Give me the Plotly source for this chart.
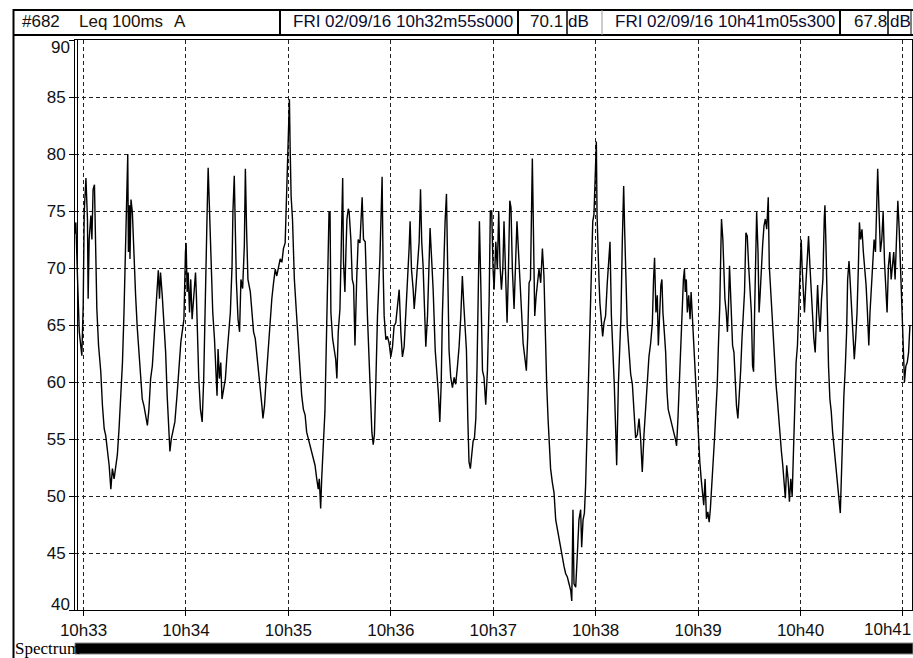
import plotly.graph_objects as go
import pandas as pd

# ---------------- data ----------------
START = "2016-09-02 10:32:55"
END = "2016-09-02 10:41:05.300"

# seconds after 10h32m55s000
seconds = [
    0.0, 0.5, 1.5, 2.5, 4.0, 4.8, 5.4, 6.4, 7.3, 7.7, 8.3, 9.3, 9.9, 10.6, 11.4, 12.2, 12.8, 13.8, 15.1, 16.1,
    17.1, 18.0, 19.0, 20.0, 21.0, 21.9, 22.9, 23.9, 24.8, 25.8, 26.8, 27.8, 28.7, 29.7, 30.3, 30.9, 31.3, 31.9,
    32.2, 32.8, 33.6, 34.6, 35.5, 36.5, 37.5, 38.5, 39.4, 40.4, 41.4, 42.4, 43.3, 44.3, 45.3, 46.2, 47.2, 48.2,
    48.8, 49.5, 50.1, 51.1, 52.1, 53.1, 54.0, 55.0, 55.6, 56.4, 57.3, 58.5, 59.9, 60.8, 62.0, 62.8, 63.8, 64.7,
    65.1, 65.7, 66.3, 67.1, 67.8, 68.6, 69.6, 70.6, 71.1, 72.5, 73.5, 74.5, 75.4, 76.4, 77.4, 78.0, 78.7, 79.5,
    80.7, 81.7, 82.6, 83.2, 83.8, 84.6, 85.4, 86.1, 87.1, 88.1, 89.0, 90.0, 91.0, 92.0, 92.5, 93.3, 93.9, 94.5,
    95.5, 96.4, 97.2, 98.2, 99.2, 99.8, 100.5, 101.3, 102.7, 103.6, 104.6, 105.6, 107.1, 108.5, 109.5, 110.1,
    111.0, 112.0, 113.0, 113.9, 115.3, 116.3, 117.3, 118.2, 119.2, 120.2, 121.2, 122.1, 123.1, 123.7, 124.3,
    125.0, 125.6, 126.0, 126.6, 127.4, 128.5, 129.7, 130.9, 131.8, 132.8, 133.8, 134.8, 135.7, 136.7, 137.7,
    138.7, 139.6, 140.6, 141.6, 142.5, 143.1, 143.9, 144.5, 145.5, 146.4, 147.2, 148.0, 148.8, 149.4, 149.9,
    150.9, 151.9, 152.7, 153.4, 154.2, 155.2, 156.2, 156.8, 157.3, 158.1, 158.7, 159.3, 160.1, 160.6, 161.6,
    162.4, 163.2, 164.0, 165.0, 165.9, 166.9, 167.5, 168.2, 169.0,
    170.0, 171.3, 172.7, 173.9, 174.7, 175.4, 176.2, 177.2, 178.6, 179.3, 179.9, 180.5, 181.1, 182.1, 183.0,
    184.0, 185.0, 186.0, 186.9, 187.9, 188.9, 189.9, 190.9, 191.8, 192.8, 193.8, 194.8, 195.7, 196.3, 197.1,
    198.1, 198.7, 199.6, 200.6, 201.6, 202.4, 203.1, 203.9, 204.7, 205.5, 206.5, 207.4, 208.0, 208.8, 209.8,
    211.0, 212.0, 212.9, 213.7, 214.5, 215.2, 216.2, 216.8, 217.6, 218.4, 219.1, 220.1, 221.1, 222.1, 223.0,
    224.0, 225.0, 226.0, 226.9, 227.7, 228.5, 229.3, 230.1, 230.8, 231.6, 232.4, 233.2, 234.0, 234.8, 235.5,
    236.3, 236.9, 237.7, 238.7, 239.6, 240.6, 241.6, 242.6, 243.3, 244.1, 244.9, 245.5, 246.5, 247.4, 248.2,
    249.0, 249.8, 250.6, 251.3, 252.3, 253.1, 253.9, 254.7, 255.4, 256.2, 257.2, 258.2, 258.9, 259.7, 260.7,
    261.5, 262.5, 263.4, 264.4, 265.2, 266.0, 266.8, 267.5, 267.9, 268.7, 269.3, 270.1, 270.8, 271.8, 272.8,
    273.8, 274.7, 275.5, 276.3, 277.1, 277.9, 278.6, 279.6, 280.6, 281.6, 282.6, 283.5, 284.5, 285.5, 286.5,
    287.4, 288.4, 289.4, 290.4, 291.0, 291.7, 292.3, 293.3, 294.3, 295.2, 296.2, 296.8, 297.6, 298.4, 299.1,
    299.9, 300.7, 301.5, 302.5, 303.3, 304.0, 304.6, 305.4, 305.8, 306.4, 307.0, 307.5, 308.3, 309.1, 309.9,
    310.8, 311.8, 312.8, 313.4, 314.2, 315.1, 315.9, 316.7, 317.3, 318.3, 319.0, 319.8, 320.6, 321.4, 322.0,
    322.6, 323.5, 324.5, 325.5, 326.5, 327.4, 328.4, 329.4, 330.4, 331.3, 332.3, 333.3, 334.3, 335.2, 336.2,
    337.2, 338.2,
    338.9, 339.5, 340.3, 341.1, 341.7, 342.4, 343.2, 343.8, 344.4, 345.2, 346.0, 346.8, 347.5, 348.3, 349.1,
    349.9, 350.7, 351.7, 352.4, 353.2, 354.0, 354.8, 355.6, 356.4, 357.0, 357.5, 358.1, 358.7, 359.5, 360.3,
    360.9, 361.5, 362.0, 362.8, 363.6, 364.4, 365.2, 366.0, 366.8, 367.5, 368.3, 369.1, 369.9, 370.7, 371.5,
    372.2, 373.0, 373.8, 374.6, 375.4, 376.2, 376.9, 377.7, 378.3, 378.7, 379.5, 380.1, 380.7, 381.5, 382.2,
    382.8, 383.4, 384.0, 384.6, 385.2, 386.0, 386.7, 387.5, 388.3, 389.1, 389.9, 390.7, 391.4, 392.2, 393.0,
    393.8, 394.6, 395.4, 396.2, 396.9, 397.5, 398.1, 398.7, 399.3, 400.1, 400.7, 401.2, 402.0, 402.8, 403.6,
    404.4, 405.2, 405.6, 406.1, 406.7, 407.5, 408.3, 409.1, 409.9, 410.7, 411.4, 412.2, 413.0, 413.8, 414.6,
    415.4, 416.1, 416.9, 417.7, 418.5, 419.3, 420.1, 420.8, 421.6, 422.4, 423.2, 424.0, 424.8, 425.4, 425.9,
    426.5, 427.3, 428.1, 428.9, 429.7, 430.5, 431.2, 432.0, 432.8, 433.6, 434.2, 435.0, 435.7, 436.5, 437.3,
    438.1, 438.9, 439.3, 439.9, 440.6, 441.4, 442.2, 443.0, 443.8, 444.6, 445.3, 446.1, 446.9, 447.7, 448.3,
    448.9, 449.7, 450.4, 451.2, 452.0, 452.6, 453.4, 454.2, 455.0, 455.7, 456.5, 457.3, 458.1, 458.9, 459.5,
    460.2, 461.0, 461.8, 462.6, 463.4, 464.2, 465.0, 465.7, 466.5, 467.3, 468.1, 468.9, 469.7, 470.2, 471.0,
    471.8, 472.6, 473.4, 474.2, 474.9, 475.7, 476.5, 477.3, 478.1, 478.9, 479.6, 480.4, 481.2, 482.0, 482.8,
    483.6, 484.4, 485.1, 485.9, 486.7, 487.5, 488.3, 489.1,
]

# Leq 100ms A, dB
leq_db = [
    73.0, 74.0, 69.0, 64.4, 62.3, 66.7, 74.9, 77.9, 74.3, 67.3, 72.5, 74.6, 72.5, 76.9, 77.3, 69.0, 66.4, 63.2, 60.9, 57.9,
    55.9, 55.3, 53.9, 52.7, 50.6, 52.4, 51.5, 52.7, 53.6, 55.9, 58.8, 61.7, 66.1, 72.0, 78.1, 80.0, 71.4, 75.5,
    70.8, 76.0, 74.9, 70.2, 67.6, 64.7, 62.3, 60.3, 58.5, 57.9, 57.1, 56.2, 57.6, 60.3, 61.4, 63.5, 66.4, 68.7,
    69.8, 67.3, 69.6, 67.6, 65.5, 62.6, 58.8, 54.7, 53.9, 55.0, 55.6, 56.5, 59.1, 61.2, 63.5, 64.4, 65.5, 71.4,
    72.2, 67.9, 69.6, 66.1, 69.0, 65.5, 67.9, 69.6, 67.6, 60.3, 57.6, 56.5, 60.3, 69.0, 74.9, 78.8, 74.9, 72.0,
    66.1, 63.8, 60.6, 58.8, 62.9, 60.3, 61.7, 58.5, 59.4, 60.3, 62.3, 64.4, 66.1, 70.2, 74.9, 78.1, 73.4, 69.0,
    65.5, 64.4, 69.0, 68.2, 72.0, 78.7, 73.4, 69.0, 67.9, 66.1, 64.4, 63.8, 61.7, 59.7, 57.9, 56.8,
    57.9, 60.3, 62.6, 64.4, 67.3, 68.7, 69.9, 69.3, 70.2, 70.8, 70.5, 71.7, 72.2, 74.9, 78.1,
    81.3, 84.8, 80.7, 76.3, 74.3, 69.0, 66.1, 63.2, 60.9, 58.8, 57.6, 57.1, 55.6, 55.0, 54.4,
    53.9, 53.3, 52.7, 51.5, 50.6, 51.5, 48.9, 51.5, 54.4, 57.4, 63.2, 69.0, 74.9, 74.9, 66.1,
    63.8, 62.6, 62.0, 60.3, 64.4, 66.4, 74.9, 77.9, 70.5, 67.9, 71.4, 74.3, 75.2, 74.9, 72.5,
    69.0, 68.5, 63.2, 69.0, 72.5, 72.2, 74.0, 76.2, 72.5,
    72.3, 65.8, 59.8, 55.6, 54.5, 55.4, 59.8, 65.8, 70.8, 74.7, 78.0, 69.9, 65.8, 63.7, 64.0,
    63.4, 62.2, 63.1, 64.9, 65.2, 66.4, 68.1, 64.3, 62.2, 63.1, 65.8, 68.1, 71.7, 74.1, 69.9,
    68.1, 66.4, 68.1, 69.9, 72.3, 76.9, 72.3, 70.2, 65.8, 63.1, 65.8, 70.2, 73.5, 71.1, 68.1,
    62.8, 61.0, 58.9, 56.5, 59.8, 65.8, 71.7, 74.1, 76.5, 69.9, 62.8, 60.4, 59.5, 60.4, 59.8,
    61.3, 63.1, 65.8, 69.3, 66.9, 65.2, 62.8, 56.8, 53.0, 52.4, 53.9, 54.8, 55.1, 56.8, 61.3,
    68.1, 74.1, 68.7, 61.0, 60.4, 58.0, 61.0, 67.2, 75.0, 75.0, 69.9, 68.1, 72.3, 69.9, 75.0,
    70.2, 68.1, 69.9, 74.1, 69.9, 65.2, 69.9, 75.9, 75.3, 69.9, 66.4, 71.7, 74.1, 71.7, 68.1,
    66.4, 63.4, 62.2, 61.0, 64.0, 68.7, 69.0, 77.4, 79.6, 71.7, 65.8, 67.5, 68.7, 69.9, 68.7,
    71.7, 69.3, 64.0, 59.8, 56.8, 54.5, 52.4, 51.2, 50.3, 47.9, 47.0, 46.1, 45.2, 44.4, 43.8,
    43.2, 42.9, 42.3, 41.7, 40.8, 48.8, 42.3, 42.0, 45.0, 47.9, 48.8, 45.5, 47.9, 48.5, 50.9,
    55.4, 59.8, 65.8, 71.1, 74.1, 74.7, 77.7, 81.1, 74.7, 70.5, 68.7, 66.9, 65.2, 64.0, 65.2,
    65.8, 68.7, 71.4, 72.3, 65.8, 62.8, 59.8, 55.9, 52.7, 59.8, 62.8, 65.8, 72.3, 77.2, 73.2,
    69.3, 64.9, 62.8, 60.7, 59.8, 57.4, 55.1, 55.4, 56.8, 55.1, 52.1, 55.4, 58.0, 59.8, 62.2,
    63.4, 65.2,
    69.0, 70.9, 66.1, 67.6, 63.2, 66.1, 68.5, 69.0, 66.1, 64.4, 62.6, 59.1, 57.6, 57.1, 56.5,
    55.9, 55.6, 55.0, 54.4, 56.8, 59.7, 63.8, 66.7, 69.0, 69.9, 67.9, 69.0, 66.1, 67.6, 65.5,
    67.9, 66.1, 64.4, 62.6, 60.3, 57.9, 54.4, 53.0, 51.5, 50.1, 49.2, 51.5, 48.0, 48.6, 47.7,
    48.9, 50.7, 53.0, 55.0, 57.4, 59.7, 63.2, 66.7, 71.4, 74.3, 72.5, 70.2, 67.3, 66.1, 64.4,
    66.7, 70.2, 67.9, 66.1, 63.2, 62.6, 60.3, 57.9, 56.8, 58.5, 60.9, 63.8, 66.1, 67.9, 73.1,
    72.8, 70.2, 67.9, 66.1, 61.4, 60.9, 66.1, 71.4, 74.9, 71.4, 66.1, 67.3, 70.2, 72.0, 73.7,
    74.3, 73.4, 75.5, 76.2, 70.2, 67.9, 65.5, 63.2, 61.4, 59.7, 58.5, 56.8, 55.0, 53.9, 52.7,
    51.5, 49.8, 52.7, 51.5, 49.5, 51.5, 50.0, 53.9, 58.8, 61.7, 63.2, 66.1, 69.6, 72.5, 70.2,
    68.5, 66.1, 68.5, 70.2, 72.8, 70.2, 67.9, 66.1, 63.8, 62.6, 65.5, 68.5, 66.1, 64.4, 67.3,
    69.0, 74.3, 75.5, 72.0, 66.1, 61.4, 58.5, 57.4, 55.6, 54.4, 53.0, 51.5, 50.4, 49.2, 48.5,
    51.5, 55.9, 58.8, 61.2, 64.4, 69.0, 70.6, 68.5, 66.1, 64.4, 62.0, 63.8, 66.1, 70.2, 74.0,
    72.5, 73.4, 71.4, 70.2, 68.5, 66.1, 63.2, 66.1, 68.5, 70.2, 72.5, 71.4, 74.9, 78.7, 74.9,
    71.4, 72.5, 74.9, 70.5, 68.5, 66.1, 70.2, 71.4, 69.0, 70.2, 71.4, 69.0, 73.4, 75.9, 73.4,
    70.2, 66.1, 63.8, 60.0, 61.4, 61.7, 62.6, 65.0,
]

minute_ticks = ["2016-09-02 10:%02d:00" % m for m in range(33, 42)]
minute_labels = ["10h33", "10h34", "10h35", "10h36", "10h37", "10h38", "10h39", "10h40", "10h41"]
level_ticks = [40, 45, 50, 55, 60, 65, 70, 75, 80, 85, 90]
level_labels = ["40", "45", "50", "55", "60", "65", "70", "75", "80", "85", "90"]

header_id = "#682"
header_measure = "Leq 100ms"
header_weight = "A"
cursor1_time = "FRI 02/09/16 10h32m55s000"
cursor1_value = "70.1"
cursor2_time = "FRI 02/09/16 10h41m05s300"
cursor2_value = "67.8"
unit = "dB"
bottom_label = "Spectrum"

# ---------------- figure ----------------
W, H = 913, 658
ML, MR, MT, MB = 75, 1, 40, 48
PW, PH = W - ML - MR, H - MT - MB


def px(x):
    return (x - ML) / PW


def py(y):
    return (H - MB - y) / PH


base = pd.Timestamp(START)
xs = base + pd.to_timedelta(seconds, unit="s")

fig = go.Figure()
fig.add_trace(go.Scatter(x=xs, y=leq_db, mode="lines",
                         line=dict(color="black", width=1.4),
                         hoverinfo="skip", showlegend=False))

FONT = "Liberation Sans, Arial, sans-serif"
grid_common = dict(showgrid=True, gridcolor="#222", gridwidth=1, griddash="4px,3px",
                   showline=True, mirror=True, linecolor="black", linewidth=1,
                   ticks="outside", ticklen=5, tickcolor="black", zeroline=False,
                   automargin=False,
                   tickfont=dict(family=FONT, size=17, color="#111"))

# edge labels are nudged inward (as in the reference), so they are drawn as annotations
x_ticktext = minute_labels[:-1] + [""]
y_ticktext = [""] + level_labels[1:-1] + [""]

fig.update_xaxes(type="date", range=[START, END], tickmode="array",
                 tickvals=minute_ticks, ticktext=x_ticktext, **grid_common)
fig.update_yaxes(range=[40, 90], tickmode="array", tickvals=level_ticks,
                 ticktext=y_ticktext, **grid_common)

shapes = []


def hline(y, x0, x1, w=1, c="black"):
    shapes.append(dict(type="line", xref="paper", yref="paper", x0=px(x0), x1=px(x1),
                       y0=py(y), y1=py(y), line=dict(color=c, width=w)))


def vline(x, y0, y1, w=1, c="black"):
    shapes.append(dict(type="line", xref="paper", yref="paper", x0=px(x), x1=px(x),
                       y0=py(y0), y1=py(y1), line=dict(color=c, width=w)))


# outer frame + header row
vline(13.5, 9, 660, 2)
hline(10, 13, 913, 2)
hline(35, 13, 913, 2)
vline(280, 10, 35, 2)
vline(518, 10, 35, 2)
vline(567, 10, 35, 1.5)
vline(602, 10, 35, 1, "#999")
vline(840, 10, 35, 2)
vline(888, 10, 35, 1.5)
vline(911, 10, 35, 1)
# second left axis line (double line)
vline(77.5, 40, 610, 1)
# bottom spectrum bar
shapes.append(dict(type="rect", xref="paper", yref="paper", x0=px(75), x1=px(913),
                   y0=py(654), y1=py(643), fillcolor="black",
                   line=dict(color="#888", width=1)))

annotations = []


def text(s, x, y, size=17, anchor="left", color="#111", family=FONT):
    annotations.append(dict(text=s, xref="paper", yref="paper", x=px(x), y=py(y),
                            xanchor=anchor, yanchor="middle", showarrow=False,
                            font=dict(family=family, size=size, color=color)))


text(header_id, 20, 22)
text(header_measure, 77, 22, color="#221100")
text(header_weight, 172, 22, color="#221100")
text(cursor1_time, 291, 22, color="#0b0b30")
text(cursor1_value, 528, 22)
text(unit, 566, 22, color="#0b0b30")
text(cursor2_time, 613, 22, color="#0b0b30")
text(cursor2_value, 852, 22)
text(unit, 888, 22, color="#0b0b30")
text(level_labels[-1], 72, 47, anchor="right")
text(level_labels[0], 72, 604, anchor="right")
text(minute_labels[-1], 913, 629.5, anchor="right")
text(bottom_label, 13, 648, size=17, color="black", family="Liberation Serif, Times New Roman, serif")

fig.update_layout(width=W, height=H,
                  margin=dict(l=ML, r=MR, t=MT, b=MB, autoexpand=False),
                  paper_bgcolor="white", plot_bgcolor="white",
                  shapes=shapes, annotations=annotations, showlegend=False)

fig.write_html("out.html", config={"displayModeBar": False})
